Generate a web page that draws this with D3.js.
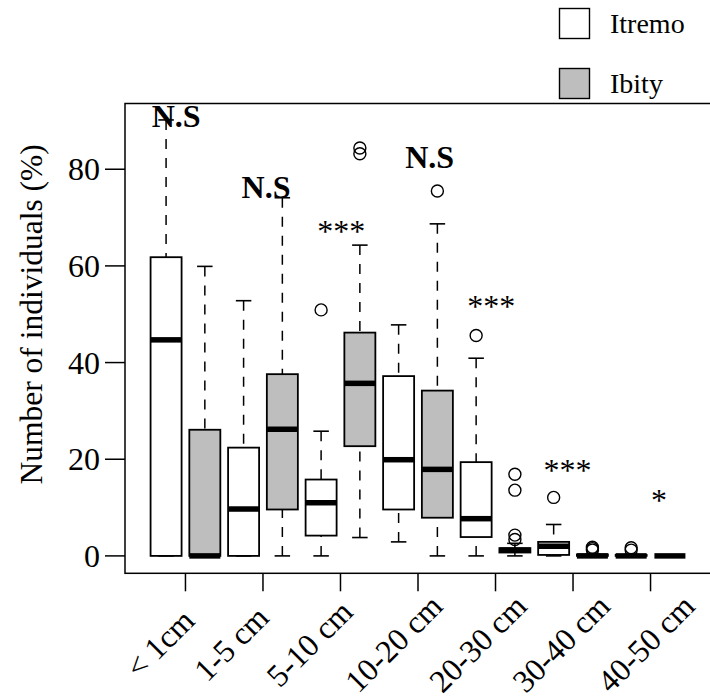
<!DOCTYPE html>
<html><head><meta charset="utf-8">
<script src="https://cdn.jsdelivr.net/npm/d3@7"></script>
<style>body{margin:0;background:#fff} svg{display:block} text{font-family:"Liberation Serif","Times New Roman",Times,"DejaVu Serif",serif;}</style>
</head><body><svg id="c" width="710" height="700"></svg>
<script>
const categories = ["< 1cm","1-5 cm","5-10 cm","10-20 cm","20-30 cm","30-40 cm","40-50 cm"];
const sites = ["Itremo","Ibity"];
const siteFill = ["#ffffff","#bebebe"];

// Itremo box statistics (percent)
const itremoLow    = [0,    0,    0,    2.9,  0,    0,   0];
const itremoQ1     = [0,    0,    4.2,  9.6,  3.9,  0.2, 0];
const itremoMedian = [44.7, 9.7,  11.0, 19.9, 7.7,  2.0, 0];
const itremoQ3     = [61.8, 22.4, 15.8, 37.2, 19.4, 2.9, 0.2];
const itremoHigh   = [90.2, 52.8, 25.8, 47.8, 40.9, 6.5, 0.3];
const itremoOut    = [[], [], [50.9], [], [45.6], [12.1], [1.7, 1.2]];

// Ibity box statistics (percent)
const ibityLow    = [0,    0,    3.8,  0,    0,   0,   0];
const ibityQ1     = [0,    9.6,  22.7, 7.9,  0.7, 0,   0];
const ibityMedian = [0,    26.2, 35.7, 17.9, 1.2, 0,   0];
const ibityQ3     = [26.1, 37.6, 46.2, 34.2, 1.6, 0.3, 0];
const ibityHigh   = [59.9, 74.1, 64.3, 68.7, 2.6, 0.3, 0];
const ibityOut    = [[], [], [84.4, 83.2], [75.5], [16.9, 13.6, 4.3, 3.4], [1.8, 1.5, 1.2], []];

const yTicks = [0, 20, 40, 60, 80];
// category label centres, in box-index units
const labelPos = [1.04, 2.88, 4.90, 7.07, 9.24, 11.39, 13.58];

// significance annotations
const sigText = ["N.S", "N.S", "***", "N.S", "***", "***", "*"];
const sigX    = [1.26, 3.58, 5.52, 7.80, 9.39, 11.36, 13.72];
const sigY    = [88.7, 74.0, 64.9, 80.2, 49.4, 15.5, 9.3];
const sigBold = [true, true, false, true, false, false, false];

const svg = d3.select("#c");
const L = 125, T = 103.5, R = 711, B = 573.3;
const x = d3.scaleLinear().domain([-0.06, 15.06]).range([L, R]);
const y = d3.scaleLinear().domain([-3.6, 93.6]).range([B, T]);
const pxPerIdx = x(2) - x(1);
const boxW = 0.8 * pxPerIdx, capW = 0.4 * pxPerIdx;

const boxes = [];
categories.forEach((c, i) => {
  boxes.push({pos: 2*i+1, site: 0, low: itremoLow[i], q1: itremoQ1[i], med: itremoMedian[i], q3: itremoQ3[i], high: itremoHigh[i], out: itremoOut[i]});
  boxes.push({pos: 2*i+2, site: 1, low: ibityLow[i], q1: ibityQ1[i], med: ibityMedian[i], q3: ibityQ3[i], high: ibityHigh[i], out: ibityOut[i]});
});

const g = svg.append("g");
boxes.forEach(b => {
  const cx = x(b.pos);
  g.append("line").attr("x1", cx).attr("x2", cx).attr("y1", y(b.high)).attr("y2", y(b.q3))
    .attr("stroke", "#000").attr("stroke-width", 1.5).attr("stroke-dasharray", "10,9");
  g.append("line").attr("x1", cx).attr("x2", cx).attr("y1", y(b.low)).attr("y2", y(b.q1))
    .attr("stroke", "#000").attr("stroke-width", 1.5).attr("stroke-dasharray", "10,9");
  [b.high, b.low].forEach(v => {
    g.append("line").attr("x1", cx - capW/2).attr("x2", cx + capW/2).attr("y1", y(v)).attr("y2", y(v))
      .attr("stroke", "#000").attr("stroke-width", 1.6);
  });
  g.append("rect").attr("x", cx - boxW/2).attr("width", boxW)
    .attr("y", y(b.q3)).attr("height", Math.max(0, y(b.q1) - y(b.q3)))
    .attr("fill", siteFill[b.site]).attr("stroke", "#000").attr("stroke-width", 1.8);
  g.append("line").attr("x1", cx - boxW/2).attr("x2", cx + boxW/2).attr("y1", y(b.med)).attr("y2", y(b.med))
    .attr("stroke", "#000").attr("stroke-width", 5.5);
  b.out.forEach(v => {
    g.append("circle").attr("cx", cx).attr("cy", y(v)).attr("r", 6)
      .attr("fill", "none").attr("stroke", "#000").attr("stroke-width", 1.4);
  });
});

svg.append("rect").attr("x", L).attr("y", T).attr("width", R - L).attr("height", B - T)
  .attr("fill", "none").attr("stroke", "#000").attr("stroke-width", 1.5);

yTicks.forEach(t => {
  svg.append("line").attr("x1", L - 20).attr("x2", L).attr("y1", y(t)).attr("y2", y(t))
    .attr("stroke", "#000").attr("stroke-width", 1.5);
  svg.append("text").attr("x", 100).attr("y", y(t)).attr("dy", "0.35em")
    .attr("text-anchor", "end").style("font-size", "32px").text(t);
});
svg.append("text").attr("transform", `translate(42,${(T + B)/2 - 24}) rotate(-90)`)
  .attr("text-anchor", "middle").style("font-size", "31.5px")
  .text("Number of individuals (%)");

categories.forEach((c, i) => {
  const tx = x(2*i + 1.5);
  svg.append("line").attr("x1", tx).attr("x2", tx).attr("y1", B).attr("y2", B + 18)
    .attr("stroke", "#000").attr("stroke-width", 1.5);
  svg.append("text").attr("transform", `translate(${x(labelPos[i])},${B + 78}) rotate(-45)`)
    .attr("text-anchor", "middle").style("font-size", "32px").text(c);
});

sigText.forEach((s, i) => {
  svg.append("text").attr("x", x(sigX[i])).attr("y", y(sigY[i]))
    .attr("text-anchor", "middle").style("font-size", "32px")
    .style("font-weight", sigBold[i] ? "bold" : "normal").text(s);
});

sites.forEach((s, i) => {
  const ly = 8 + i * 60;
  svg.append("rect").attr("x", 559.5).attr("y", ly + 0.5).attr("width", 30).attr("height", 30)
    .attr("fill", siteFill[i]).attr("stroke", "#000").attr("stroke-width", 1.4);
  svg.append("text").attr("x", 610).attr("y", ly + 25).style("font-size", "28px").text(s);
});
</script></body></html>
